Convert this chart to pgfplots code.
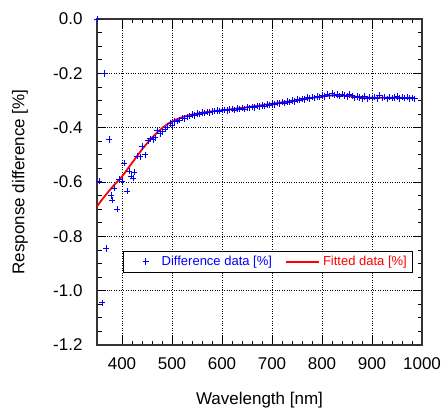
\documentclass[border=0pt]{standalone}
\usepackage{pgfplots}
\pgfplotsset{compat=1.18}
\usepackage{fontspec}
\setmainfont{Liberation Sans}
\pgfplotsset{
  markleg/.style={legend image code/.code={\path[draw=none] (0pt,0pt) -- (31pt,0pt);
    \begin{scope}[color=blue, draw=blue]
    \draw[##1, color=blue, draw=blue, mark options={color=blue, draw=blue, line width=0.8pt}] plot coordinates {(18pt,0pt)};
    \end{scope}}},
  lineleg/.style={legend image code/.code={\draw[draw=red, line width=2pt] (0pt,0pt) -- (33pt,0pt);}},
}
\begin{document}
\begin{tikzpicture}
\begin{axis}[
  name=ax,
  scale only axis,
  width=325pt, height=326pt,
  xmin=350, xmax=1000, ymin=-1.2, ymax=0,
  xtick={400,500,...,1000},
  ytick={-1.2,-1.0,-0.8,-0.6,-0.4,-0.2,0},
  minor x tick num=4,
  minor y tick num=3,
  tick align=inside,
  major tick length=9pt, minor tick length=4.5pt,
  every tick/.style={black, line width=0.8pt},
  axis line style={black!80, line width=1.1pt},
  grid=major,
  major grid style={black, dotted, line width=0.8pt},
  /pgf/number format/assume math mode=true,
  yticklabel style={/pgf/number format/fixed, /pgf/number format/fixed zerofill, /pgf/number format/precision=1, xshift=-11pt},
  xticklabel style={/pgf/number format/1000 sep={}, yshift=-9pt},
  tick label style={font=\fontsize{17}{19}\selectfont},
  label style={font=\fontsize{17}{19}\selectfont},
  xlabel={Wavelength [nm]},
  ylabel={Response difference [\%]},
  xlabel style={at={(axis description cs:0.5,-0.169)}, anchor=center},
  ylabel style={at={(axis description cs:-0.237,0.5)}, anchor=center},
  legend style={at={(0.527,0.256)}, anchor=center, line width=0.8pt,
    font=\fontsize{13}{15}\selectfont, inner xsep=4pt, inner ysep=3pt,
    /tikz/every odd column/.append style={column sep=1pt},
    /tikz/every even column/.append style={column sep=11pt}},
  legend columns=2,
  clip=false,
]
\addplot[only marks, mark=+, mark size=3.2pt, color=blue, mark options={line width=0.8pt}, markleg]
coordinates {
(350,0.000) (354,-0.596) (360,-1.045) (364,-0.200) (368,-0.845) (374,-0.444)
(378,-0.650) (380,-0.667) (384,-0.622) (390,-0.700) (394,-0.589) (400,-0.596)
(404,-0.530) (410,-0.633) (414,-0.560) (418,-0.578) (422,-0.585) (424,-0.563)
(430,-0.504) (436,-0.507) (440,-0.470) (446,-0.500) (452,-0.448) (456,-0.441)
(462,-0.444) (466,-0.437) (470,-0.411) (476,-0.422) (480,-0.415) (486,-0.405)
(490,-0.398) (496,-0.385) (500,-0.392) (505,-0.378) (510,-0.376) (515,-0.372)
(520,-0.365) (525,-0.366) (530,-0.360) (535,-0.358) (540,-0.352) (545,-0.355)
(550,-0.348) (555,-0.350) (560,-0.344) (565,-0.346) (570,-0.342) (575,-0.344)
(580,-0.340) (585,-0.339) (590,-0.337) (595,-0.339) (600,-0.336) (605,-0.334)
(610,-0.337) (615,-0.333) (620,-0.332) (625,-0.335) (630,-0.330) (635,-0.331)
(640,-0.328) (645,-0.331) (650,-0.326) (655,-0.327) (660,-0.323) (665,-0.326)
(670,-0.320) (675,-0.322) (680,-0.318) (685,-0.320) (690,-0.314) (695,-0.317)
(700,-0.312) (705,-0.314) (710,-0.309) (715,-0.311) (720,-0.306) (725,-0.309)
(730,-0.303) (735,-0.306) (740,-0.300) (745,-0.303) (750,-0.297) (755,-0.299)
(760,-0.294) (765,-0.297) (770,-0.289) (775,-0.293) (780,-0.288) (785,-0.290)
(790,-0.286) (795,-0.288) (800,-0.282) (805,-0.285) (810,-0.276) (815,-0.283)
(820,-0.274) (825,-0.280) (830,-0.278) (835,-0.284) (840,-0.277) (845,-0.282)
(850,-0.286) (855,-0.278) (860,-0.283) (865,-0.290) (870,-0.285) (875,-0.289)
(880,-0.292) (885,-0.286) (890,-0.294) (895,-0.288) (900,-0.291) (905,-0.287)
(910,-0.293) (915,-0.282) (920,-0.290) (925,-0.288) (930,-0.294) (935,-0.287)
(940,-0.291) (945,-0.289) (950,-0.286) (955,-0.293) (960,-0.288) (965,-0.291)
(970,-0.287) (975,-0.292) (980,-0.290) (985,-0.294)
};
\addlegendentry{\textcolor{blue}{Difference data [\%]}}
\addplot[color=red, line width=1.8pt, smooth, lineleg]
coordinates {
(350,-0.690) (360,-0.665) (370,-0.642) (380,-0.620) (390,-0.600) (400,-0.580)
(410,-0.555) (420,-0.530) (430,-0.505) (440,-0.480) (450,-0.458) (460,-0.437)
(470,-0.418) (480,-0.402) (490,-0.388) (500,-0.377) (520,-0.362) (540,-0.352)
(560,-0.345) (580,-0.340) (600,-0.336) (650,-0.325) (700,-0.312) (750,-0.299)
(800,-0.285) (825,-0.281) (850,-0.283) (875,-0.287) (900,-0.290) (950,-0.290)
(985,-0.292)
};
\addlegendentry{\textcolor{red}{Fitted data [\%]}}
\end{axis}
\path ([xshift=-97pt,yshift=-67pt]ax.south west) rectangle ([xshift=24pt,yshift=19pt]ax.north east);
\end{tikzpicture}
\end{document}
